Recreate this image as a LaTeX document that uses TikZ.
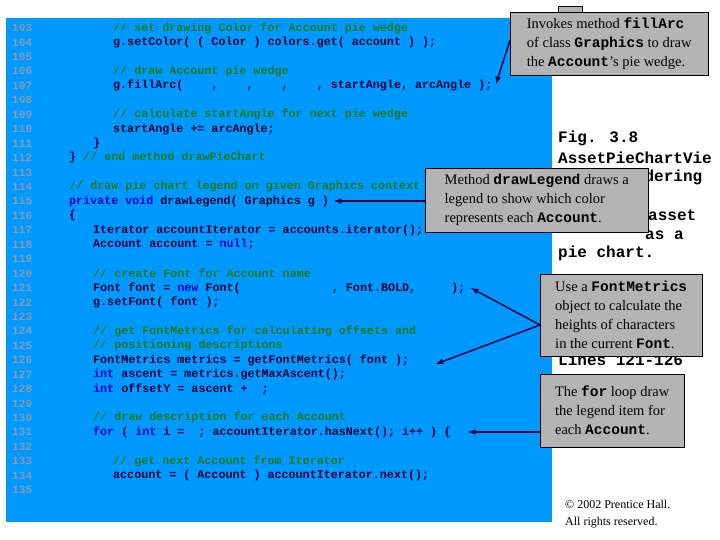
\documentclass[tikz,border=0pt]{standalone}
\usepackage{fontspec}
\setmainfont{Liberation Serif}
\setmonofont{Liberation Mono}
\newfontfamily\codefont{Liberation Mono}
\definecolor{bgblue}{HTML}{0099FF}
\definecolor{codetx}{HTML}{000033}
\definecolor{cmgreen}{HTML}{1A7A1A}
\definecolor{kwblue}{HTML}{0000CC}
\definecolor{lngray}{HTML}{8A9BB0}
\definecolor{callgray}{HTML}{B4B4B4}
\definecolor{arrowc}{HTML}{000040}
\newcommand{\kwd}[1]{\textcolor{kwblue}{#1}}
\newcommand{\cmt}[1]{\textcolor{cmgreen}{#1}}
\newcommand{\cw}[1]{{\ttfamily\bfseries #1}}
\begin{document}
\begin{tikzpicture}[x=1pt,y=-1pt,
  code/.style={anchor=west,inner sep=0pt,font=\codefont\bfseries\fontsize{11.7}{12}\selectfont,text=codetx},
  lnum/.style={anchor=west,inner sep=0pt,font=\codefont\bfseries\fontsize{11.1}{12}\selectfont,text=lngray},
  side/.style={anchor=west,inner sep=0pt,font=\codefont\bfseries\fontsize{16}{18}\selectfont,text=black},
  callout/.style={draw=black,fill=callgray,align=left,anchor=north west,inner sep=3pt,font=\fontsize{14.5}{19}\selectfont,text=black},
  arr/.style={draw=arrowc,line width=1.5pt,-latex}]
\useasboundingbox (0,0) rectangle (720,540);
\fill[white] (0,0) rectangle (720,540);
\fill[bgblue] (6,18) rectangle (552,522);
% line numbers
\foreach \n [count=\i from 0] in {103,...,135}
  \node[lnum] (ln\n) at (12,{28+14.44*\i}) {\n};
\def\La{69}\def\Lb{93}\def\Lc{113}
\node[code] (c103) at (\Lc,28.00) {\cmt{// set drawing Color for Account pie wedge}};
\node[code] (c104) at (\Lc,42.44) {g.setColor( ( Color ) colors.get( account ) );};
\node[code] (c106) at (\Lc,71.32) {\cmt{// draw Account pie wedge}};
\node[code] (c107) at (\Lc,85.76) {g.fillArc(~~~~,~~~~,~~~~,~~~~, startAngle, arcAngle );};
\node[code] (c109) at (\Lc,114.64) {\cmt{// calculate startAngle for next pie wedge}};
\node[code] (c110) at (\Lc,129.08) {startAngle += arcAngle;};
\node[code] (c111) at (\Lb,143.52) {\}};
\node[code] (c112) at (\La,157.96) {\} \cmt{// end method drawPieChart}};
\node[code] (c114) at (\La,186.84) {\cmt{// draw pie chart legend on given Graphics context}};
\node[code] (c115) at (\La,201.28) {\kwd{private void} drawLegend( Graphics g )};
\node[code] (c116) at (\La,215.72) {\{};
\node[code] (c117) at (\Lb,230.16) {Iterator accountIterator = accounts.iterator();};
\node[code] (c118) at (\Lb,244.60) {Account account = \kwd{null};};
\node[code] (c120) at (\Lb,273.48) {\cmt{// create Font for Account name}};
\node[code] (c121) at (\Lb,287.92) {Font font = \kwd{new} Font(~~~~~~~~~~~~~, Font.BOLD,~~~~ );};
\node[code] (c122) at (\Lb,302.36) {g.setFont( font );};
\node[code] (c124) at (\Lb,331.24) {\cmt{// get FontMetrics for calculating offsets and}};
\node[code] (c125) at (\Lb,345.68) {\cmt{// positioning descriptions}};
\node[code] (c126) at (\Lb,360.12) {FontMetrics metrics = getFontMetrics( font );};
\node[code] (c127) at (\Lb,374.56) {\kwd{int} ascent = metrics.getMaxAscent();};
\node[code] (c128) at (\Lb,389.00) {\kwd{int} offsetY = ascent +~~;};
\node[code] (c130) at (\Lb,417.88) {\cmt{// draw description for each Account}};
\node[code] (c131) at (\Lb,432.32) {\kwd{for} ( \kwd{int} i =~~; accountIterator.hasNext(); i++ ) \{};
\node[code] (c133) at (\Lc,461.20) {\cmt{// get next Account from Iterator}};
\node[code] (c134) at (\Lc,475.64) {account = ( Account ) accountIterator.next();};
% side caption
\node[side] (s1) at (558,138) {Fig. 3.8};
\node[side] (s2) at (558,158) {AssetPieChartVie};
\node[side] (s3) at (558,177) {w for rendering};
\node[side] (s5) at (648,215) {asset};
\node[side] (s6) at (645,235) {as a};
\node[side] (s7) at (558,253) {pie chart.};
\node[side] (s8) at (558,360) {Lines 121-126};
\fill[callgray,draw=black] (558,6) rectangle (582,14);
% callouts
\node[callout,minimum width=198pt,minimum height=63pt] (b1) at (510,12)
  {Invokes method \cw{fillArc}\\of class \cw{Graphics} to draw\\the \cw{Account}'s pie wedge.};
\node[callout,minimum width=223pt,minimum height=64pt] (b2) at (425,168)
  {Method \cw{drawLegend} draws a\\legend to show which color\\represents each \cw{Account}.};
\node[callout,minimum width=162pt,minimum height=82pt] (b3) at (540,274)
  {Use a \cw{FontMetrics}\\object to calculate the\\heights of characters\\in the current \cw{Font}.};
\node[callout,minimum width=144pt,minimum height=73pt] (b4) at (540,374)
  {The \cw{for} loop draw\\the legend item for\\each \cw{Account}.};
% arrows
\coordinate (t1) at (496,84);
\coordinate (t2) at (334,201);
\coordinate (t3) at (471,288);
\coordinate (t4) at (436,364);
\coordinate (t5) at (468,432);
\coordinate (o3) at (540,325);
\draw[arr] (b1.west |- 0,40) -- (t1);
\draw[arr] (b2.west |- 0,201) -- (t2);
\draw[arr] (o3) -- (t3);
\draw[arr] (o3) -- (t4);
\draw[arr] (b4.west |- 0,432) -- (t5);
\node[anchor=north west,align=left,inner sep=0pt,font=\fontsize{12}{17}\selectfont] (copy) at (565,500)
  {\textcopyright{} 2002 Prentice Hall.\\All rights reserved.};
\end{tikzpicture}
\end{document}
